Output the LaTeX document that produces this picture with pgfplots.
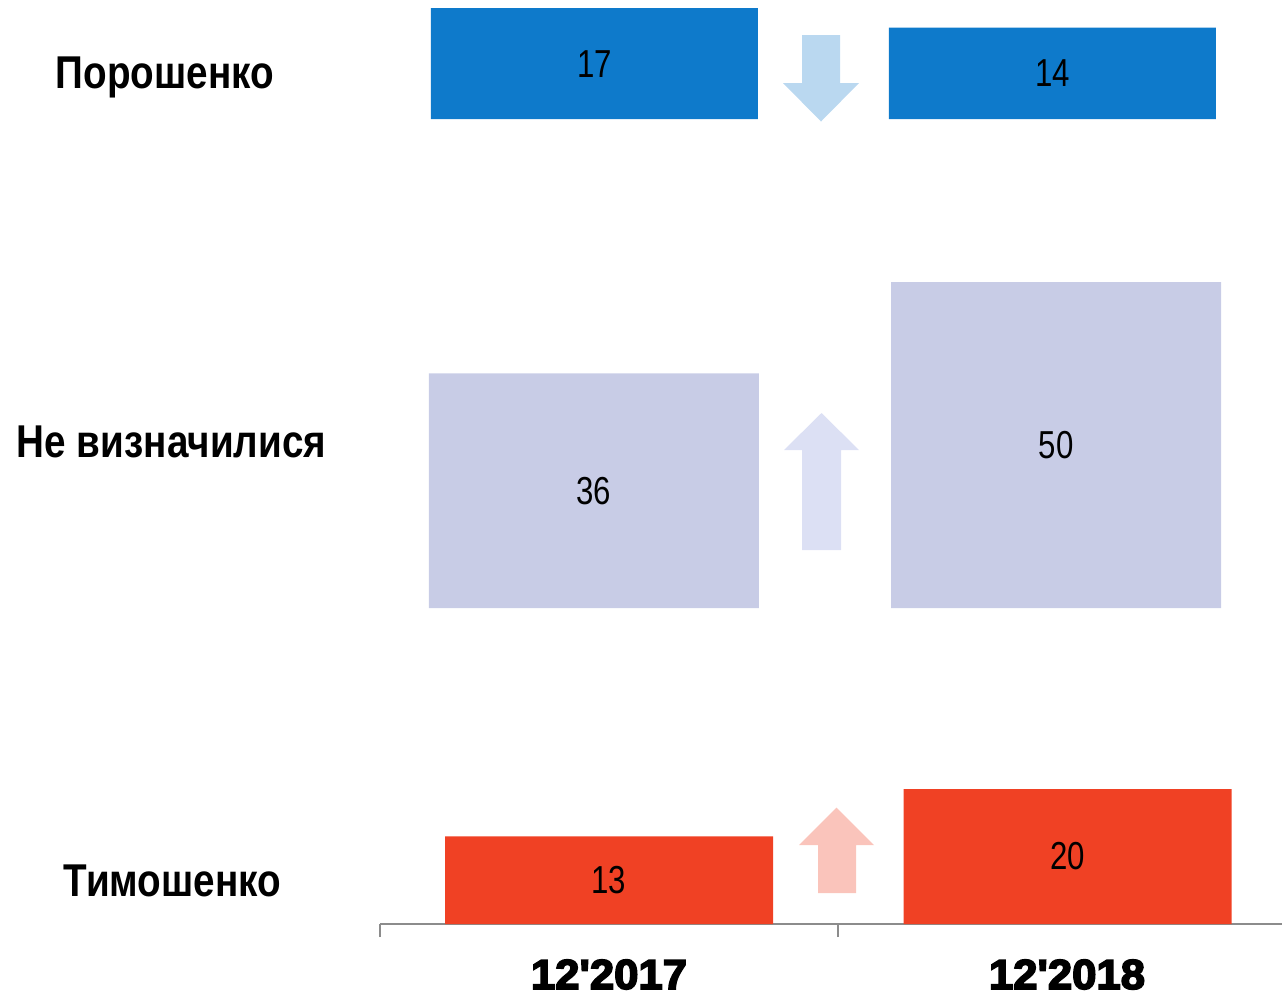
\documentclass[border=0pt]{standalone}
\usepackage{fontspec}
\setmainfont{Liberation Sans}
\newfontfamily\labelfont{Liberation Sans Bold}[FakeStretch=0.84]
\newfontfamily\numfont{Liberation Sans}[FakeStretch=0.8]
\newfontfamily\blackfont{Liberation Sans Bold}[FakeBold=4, FakeStretch=1.04]
\usepackage{pgfplots}
\pgfplotsset{compat=1.18}
\definecolor{barblue}{HTML}{0E7ACB}
\definecolor{arrblue}{HTML}{BAD8F0}
\definecolor{barlav}{HTML}{C8CCE6}
\definecolor{arrlav}{HTML}{DCE0F4}
\definecolor{barred}{HTML}{F04124}
\definecolor{arrred}{HTML}{FAC4BB}
\definecolor{axgray}{HTML}{8C8C8C}
\pgfplotsset{
  rowbar/.style={
    scale only axis, x=229pt, xmin=0, xmax=1.969, ymin=0,
    clip=false, anchor=south west,
    /pgf/number format/assume math mode=true,
    nodes near coords,
    visualization depends on={y \as \rawy},
    every node near coord/.append style={anchor=center, font=\numfont\fontsize{19.5}{19.5}\selectfont, text=black,
      shift={(axis direction cs:0,-\rawy/2)}},
  }
}
\begin{document}
\begin{tikzpicture}
\path[use as bounding box] (0,0) rectangle (641pt,-499pt);
% Top row: Poroshenko
\begin{axis}[rowbar, at={(190pt,-59.5pt)}, y=3.26pt, ymax=18, hide axis]
\addplot[ybar, bar width=163.5pt, fill=barblue, draw=none] coordinates {(0.4683,17) (1.4683,14)};
\end{axis}
% Middle row: undecided
\begin{axis}[rowbar, at={(190pt,-304pt)}, y=3.26pt, ymax=51, hide axis]
\addplot[ybar, bar width=165pt, fill=barlav, draw=none] coordinates {(0.4672,36) (1.4760,50)};
\end{axis}
% Bottom row: Tymoshenko
\begin{axis}[rowbar, at={(190pt,-462pt)}, y=3.375pt, ymax=21,
  axis x line=bottom, axis y line=none,
  x axis line style={-, draw=axgray, line width=1pt},
  xtick={0,1}, xticklabels={}, tick align=outside,
  major tick length=6.5pt,
  xtick style={draw=axgray, line width=0.8pt},
  extra x ticks={0.5,1.5}, extra x tick labels={12'2017,12'2018},
  extra x tick style={major tick length=0pt,
    tick label style={anchor=base, yshift=-32.5pt, font=\blackfont\fontsize{21}{21}\selectfont}},
  ]
\addplot[ybar, bar width=164pt, fill=barred, draw=none] coordinates {(0.5,13) (1.5011,20)};
\end{axis}
\begin{scope}[x=0.5pt, y=-0.5pt]
\fill[arrblue] (802,35) -- (840,35) -- (840,83) -- (859,83) -- (821,121.5) -- (783,83) -- (802,83) -- cycle;
\fill[arrlav] (802,550) -- (841,550) -- (841,450) -- (859,450) -- (821.5,413) -- (784,450) -- (802,450) -- cycle;
\fill[arrred] (818,893) -- (856,893) -- (856,845) -- (874,845) -- (836.5,807.5) -- (799,845) -- (818,845) -- cycle;
\node[anchor=base, font=\labelfont\fontsize{23}{23}\selectfont] at (165,88) {Порошенко};
\node[anchor=base, font=\labelfont\fontsize{23}{23}\selectfont] at (171.5,457) {Не визначилися};
\node[anchor=base, font=\labelfont\fontsize{23}{23}\selectfont] at (172.5,896) {Тимошенко};
\end{scope}
\end{tikzpicture}
\end{document}
